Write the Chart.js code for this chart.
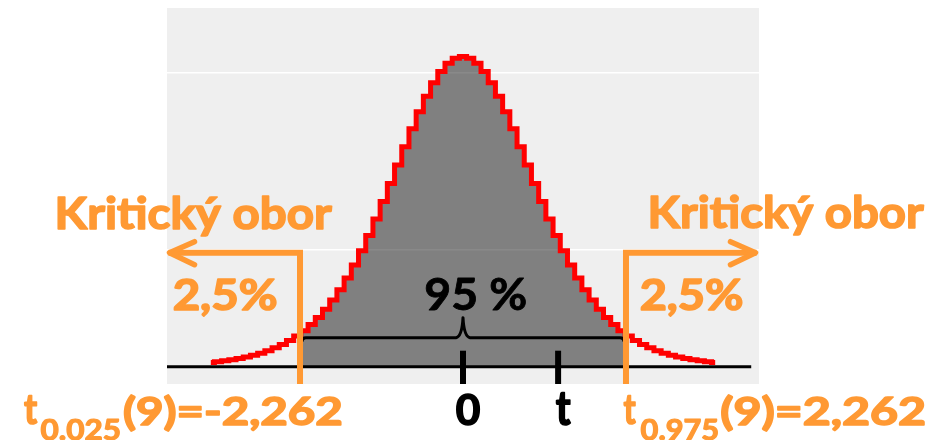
<!DOCTYPE html>
<html><head><meta charset="utf-8">
<script src="https://cdn.jsdelivr.net/npm/chart.js@4.4.0/dist/chart.umd.min.js"></script>
<style>html,body{margin:0;padding:0;background:#fff;overflow:hidden}canvas{display:block}</style>
</head><body>
<canvas id="c" width="942" height="440"></canvas>
<script>
// ---- data (Student t density, 9 d.f.) ----
const tValues = [-3.5,-3.4,-3.3,-3.2,-3.1,-3.0,-2.9,-2.8,-2.7,-2.6,-2.5,-2.4,-2.3,-2.2,-2.1,-2.0,-1.9,-1.8,-1.7,-1.6,-1.5,-1.4,-1.3,-1.2,-1.1,-1.0,-0.9,-0.8,-0.7,-0.6,-0.5,-0.4,-0.3,-0.2,-0.1,
  0,0.1,0.2,0.3,0.4,0.5,0.6,0.7,0.8,0.9,1.0,1.1,1.2,1.3,1.4,1.5,1.6,1.7,1.8,1.9,2.0,2.1,2.2,2.3,2.4,2.5,2.6,2.7,2.8,2.9,3.0,3.1,3.2,3.3,3.4,3.5];
const density = [0.0053,0.0062,0.0074,0.0087,0.0103,0.0121,0.0143,0.0169,0.0200,0.0236,0.0278,0.0327,0.0385,0.0451,0.0528,0.0617,0.0719,0.0834,0.0964,0.1110,0.1272,0.1449,0.1641,0.1847,0.2065,0.2291,0.2522,0.2752,0.2977,0.3189,0.3384,0.3553,0.3692,0.3795,0.3859,
  0.3880,0.3859,0.3795,0.3692,0.3553,0.3384,0.3189,0.2977,0.2752,0.2522,0.2291,0.2065,0.1847,0.1641,0.1449,0.1272,0.1110,0.0964,0.0834,0.0719,0.0617,0.0528,0.0451,0.0385,0.0327,0.0278,0.0236,0.0200,0.0169,0.0143,0.0121,0.0103,0.0087,0.0074,0.0062,0.0053];
const criticalValue = 2.262;
const tObserved = 1.32;
const gridValues = [0.146, 0.3675];
const axisTickValues = [0, tObserved];
const axisTickLabels = ['0', 't'];
const regionLabel = 'Kritický obor';
const tailShareLabel = '2,5%';
const centralShareLabel = '95 %';
const lowerCritLabel = ['t', '0.025', '(9)=-2,262'];
const upperCritLabel = ['t', '0.975', '(9)=2,262'];

// ---- derived tables ----
const curvePts = tValues.map((t, i) => ({x: t, y: density[i]}));
function nearestDensity(v) {
  let bi = 0;
  tValues.forEach((t, i) => { if (Math.abs(t - v) < Math.abs(tValues[bi] - v)) bi = i; });
  return density[bi];
}
const centralPts = [{x: -criticalValue, y: nearestDensity(-criticalValue)}]
  .concat(curvePts.filter(p => Math.abs(p.x) < criticalValue))
  .concat([{x: criticalValue, y: nearestDensity(criticalValue)}]);

const ORANGE = '#ff9933';
const FONT = 'Lato, "Open Sans", sans-serif';

function fitText(ctx, str, left, right, baseline, inkH, color, refStr, extra) {
  const sw = extra === undefined ? 1.6 : extra;
  ctx.font = 'bold 100px ' + FONT;
  const r = ctx.measureText(refStr || str);
  const size = 100 * (inkH - sw) / r.actualBoundingBoxAscent;
  ctx.font = 'bold ' + size.toFixed(2) + 'px ' + FONT;
  const m = ctx.measureText(str);
  const w = m.actualBoundingBoxLeft + m.actualBoundingBoxRight;
  const sx = (right - left - sw) / w;
  ctx.save();
  ctx.fillStyle = color;
  ctx.strokeStyle = color;
  ctx.lineJoin = 'round';
  ctx.textAlign = 'left';
  ctx.textBaseline = 'alphabetic';
  ctx.translate(left + sw / 2, baseline - sw / 2);
  ctx.scale(sx, 1);
  ctx.fillText(str, m.actualBoundingBoxLeft, 0);
  if (sw > 0) { ctx.lineWidth = sw; ctx.strokeText(str, m.actualBoundingBoxLeft, 0); }
  ctx.restore();
}

const deco = {
  id: 'deco',
  beforeDraw(chart) {
    const {ctx, chartArea: a} = chart;
    ctx.save();
    ctx.fillStyle = '#efefef';
    ctx.fillRect(a.left, a.top, a.right - a.left, a.bottom - a.top);
    ctx.restore();
  },
  afterDatasetsDraw(chart) {
    const {ctx, chartArea: a, scales: {x, y}} = chart;
    const y0 = y.getPixelForValue(0);
    const xl = x.getPixelForValue(-criticalValue);
    const xr = x.getPixelForValue(criticalValue);
    const xc = x.getPixelForValue(0);
    ctx.save();
    // base axis line
    ctx.strokeStyle = '#000';
    ctx.lineWidth = 3;
    ctx.beginPath();
    ctx.moveTo(a.left, y0);
    ctx.lineTo(x.getPixelForValue(4), y0);
    ctx.stroke();
    // tick marks
    ctx.lineWidth = 6;
    axisTickValues.forEach(v => {
      const px = x.getPixelForValue(v);
      ctx.beginPath();
      ctx.moveTo(px, y0 - 16);
      ctx.lineTo(px, a.bottom);
      ctx.stroke();
    });
    // brace
    const by = y0 - 29;
    ctx.lineWidth = 3;
    ctx.lineJoin = 'round';
    ctx.beginPath();
    ctx.moveTo(xl + 2, by + 4);
    ctx.quadraticCurveTo(xl + 2, by, xl + 6, by);
    ctx.lineTo(xc - 7, by);
    ctx.quadraticCurveTo(xc - 1, by - 1, xc, by - 20);
    ctx.quadraticCurveTo(xc + 1, by - 1, xc + 7, by);
    ctx.lineTo(xr - 6, by);
    ctx.quadraticCurveTo(xr - 2, by, xr - 2, by + 4);
    ctx.stroke();
    // orange critical lines + arrows
    const oy = y0 - 114;
    ctx.strokeStyle = ORANGE;
    ctx.lineWidth = 6;
    ctx.lineJoin = 'miter';
    ctx.lineCap = 'butt';
    const tipL = a.left + 1.5, tipR = a.right - 2.5;
    ctx.beginPath();
    ctx.moveTo(xl, a.bottom); ctx.lineTo(xl, oy); ctx.lineTo(tipL, oy);
    ctx.moveTo(xr, a.bottom); ctx.lineTo(xr, oy); ctx.lineTo(tipR, oy);
    ctx.stroke();
    ctx.lineCap = 'round';
    ctx.lineJoin = 'round';
    ctx.lineWidth = 5.5;
    ctx.beginPath();
    ctx.moveTo(tipL + 26, oy - 11); ctx.lineTo(tipL + 1, oy); ctx.lineTo(tipL + 26, oy + 12);
    ctx.moveTo(tipR - 26, oy - 11); ctx.lineTo(tipR - 1, oy); ctx.lineTo(tipR - 26, oy + 12);
    ctx.stroke();
    ctx.restore();

    // texts
    fitText(ctx, regionLabel, 57, 333, 230, 34, ORANGE, 'K');
    fitText(ctx, regionLabel, 650, 925, 229, 34, ORANGE, 'K');
    fitText(ctx, tailShareLabel, 173, 277, 311, 32, ORANGE, '2');
    fitText(ctx, tailShareLabel, 640, 743, 311, 32, ORANGE, '2');
    fitText(ctx, centralShareLabel, 425, 526, 310.5, 32.5, '#000', '9', 0.8);
    fitText(ctx, axisTickLabels[0], 456, 481, 426, 32, '#000', '0');
    fitText(ctx, axisTickLabels[1], 555, 572, 426, 33, '#000', 't');
    // lower critical label
    fitText(ctx, lowerCritLabel[0], 23.3, 38.3, 425, 30, ORANGE, 't');
    fitText(ctx, lowerCritLabel[1], 40, 120, 441, 22, ORANGE, '0', 1.2);
    fitText(ctx, lowerCritLabel[2], 123.3, 341.7, 426, 30, ORANGE, '2');
    // upper critical label
    fitText(ctx, upperCritLabel[0], 622.7, 636.7, 425, 30, ORANGE, 't');
    fitText(ctx, upperCritLabel[1], 640, 718, 441, 22, ORANGE, '0', 1.2);
    fitText(ctx, upperCritLabel[2], 720.7, 925, 426, 30, ORANGE, '2');
  }
};

new Chart(document.getElementById('c'), {
  type: 'line',
  data: {
    datasets: [
      {
        data: curvePts,
        borderColor: '#ff0000',
        borderWidth: 5,
        stepped: 'middle',
        pointRadius: 0,
        fill: false,
        clip: false
      },
      {
        data: centralPts,
        borderWidth: 0,
        borderColor: 'rgba(0,0,0,0)',
        backgroundColor: 'rgba(0,0,0,0.464)',
        stepped: 'middle',
        pointRadius: 0,
        fill: 'origin'
      }
    ]
  },
  options: {
    responsive: false,
    animation: false,
    devicePixelRatio: 1,
    layout: {padding: {left: 167, right: 183, top: 8, bottom: 56}},
    plugins: {legend: {display: false}, tooltip: {enabled: false}},
    scales: {
      x: {type: 'linear', min: -4.108, max: 4.108, display: false},
      y: {
        type: 'linear', min: -0.02164, max: 0.4487,
        display: true,
        border: {display: false},
        grid: {color: '#ffffff', lineWidth: 1.5, drawTicks: false},
        ticks: {display: false},
        afterBuildTicks: s => { s.ticks = gridValues.map(v => ({value: v})); }
      }
    }
  },
  plugins: [deco]
});
</script>
</body></html>
